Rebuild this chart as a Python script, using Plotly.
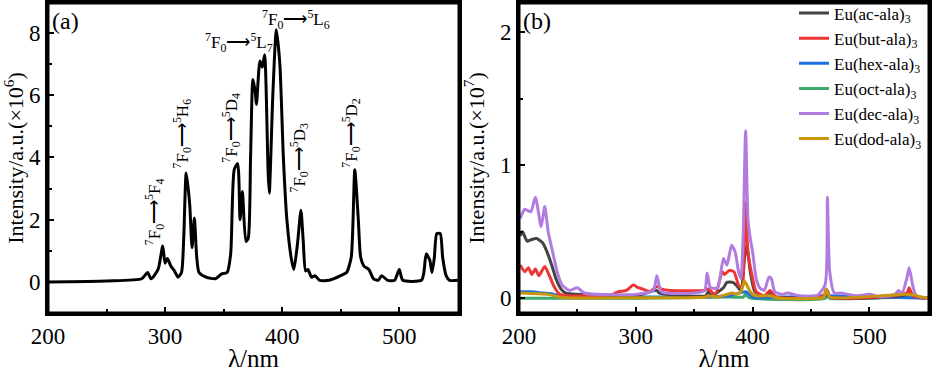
import plotly.graph_objects as go
from plotly.subplots import make_subplots

# ---------- Panel (a) data: excitation spectrum (x10^6) ----------
wl_a = [200, 250, 280, 285, 288, 294, 298, 300, 302, 305, 308, 311, 314, 316, 318, 321, 323, 325, 327, 329,
        335, 343, 348, 353, 356, 359, 362, 364, 366, 369, 371, 373, 375, 377, 378, 381, 383, 385, 388, 389,
        392, 395, 398, 401, 404, 408, 410, 413, 416, 418, 420, 422, 425, 428, 432, 440, 450, 455, 459, 462,
        465, 467, 470, 474, 478, 482, 485, 490, 496, 500, 503, 519, 521, 523, 526, 528, 530, 532, 535, 537,
        540, 543, 550]
int_a = [0.0, 0.03, 0.1, 0.3, 0.1, 0.4, 1.15, 0.6, 0.75, 0.5, 0.35, 0.15, 0.3, 1.5, 3.5, 2.5, 1.1, 2.05, 0.8, 0.3,
         0.15, 0.1, 0.25, 0.3, 0.9, 3.6, 3.8, 2.0, 2.9, 1.3, 1.4, 4.0, 6.5, 6.1, 5.7, 7.1, 6.9, 7.3, 3.5, 2.85,
         6.0, 8.1, 7.0, 4.0, 2.0, 0.7, 0.4, 1.2, 2.3, 1.3, 0.35, 0.4, 0.15, 0.2, 0.05, 0.05, 0.2, 0.3, 0.8, 3.6,
         2.0, 0.8, 0.5, 0.4, 0.1, 0.05, 0.2, 0.05, 0.05, 0.4, 0.05, 0.05, 0.3, 0.9, 0.7, 0.3, 0.8, 1.55, 1.55, 0.8,
         0.2, 0.05, 0.05]

# ---------- Panel (b) data: six complexes (x10^7) ----------
names_b = ["Eu(ac-ala)<sub>3</sub>", "Eu(but-ala)<sub>3</sub>", "Eu(hex-ala)<sub>3</sub>",
           "Eu(oct-ala)<sub>3</sub>", "Eu(dec-ala)<sub>3</sub>", "Eu(dod-ala)<sub>3</sub>"]
colors_b = ["#444444", "#ee3535", "#1f6fe0", "#3aaa6a", "#b07ce0", "#c8960c"]

wl_ac = [201, 203, 207, 210, 215, 220, 224, 228, 232, 236, 240, 250, 300, 318, 320, 340, 360, 362, 365, 375, 378,
         383, 386, 390, 393, 395, 398, 402, 410, 415, 420, 462, 464, 466, 532, 534, 537, 550]
int_ac = [0.47, 0.5, 0.43, 0.44, 0.45, 0.42, 0.35, 0.25, 0.14, 0.07, 0.04, 0.03, 0.02, 0.06, 0.04, 0.02, 0.02, 0.05,
          0.02, 0.08, 0.12, 0.12, 0.1, 0.06, 0.3, 0.4, 0.2, 0.05, 0.02, 0.04, 0.01, 0.02, 0.06, 0.01, 0.03, 0.07,
          0.02, 0.0]

wl_but = [201, 205, 208, 211, 214, 217, 222, 226, 230, 235, 240, 260, 280, 285, 292, 298, 302, 306, 312, 318, 322,
          330, 358, 362, 368, 374, 376, 380, 384, 388, 391, 393, 394, 396, 400, 403, 410, 415, 420, 461, 463, 466,
          532, 534, 537, 550]
int_but = [0.25, 0.2, 0.23, 0.18, 0.22, 0.17, 0.24, 0.17, 0.09, 0.03, 0.02, 0.02, 0.03, 0.05, 0.06, 0.1, 0.08, 0.07,
           0.05, 0.09, 0.07, 0.06, 0.06, 0.07, 0.03, 0.2, 0.18, 0.21, 0.2, 0.1, 0.08, 0.5, 0.72, 0.35, 0.15, 0.05,
           0.02, 0.06, 0.01, 0.02, 0.07, 0.01, 0.04, 0.08, 0.02, 0.0]

wl_hex = [200, 210, 220, 230, 240, 300, 380, 394, 400, 464, 550]
int_hex = [0.05, 0.05, 0.04, 0.03, 0.01, 0.01, 0.02, 0.05, 0.01, 0.02, 0.0]

wl_oct = [200, 300, 380, 392, 394, 397, 462, 464, 466, 534, 550]
int_oct = [0.0, 0.0, 0.01, 0.01, 0.03, 0.005, 0.0, 0.02, 0.0, 0.01, 0.0]

wl_dec = [201, 205, 210, 214, 219, 222, 225, 228, 233, 237, 243, 250, 256, 300, 315, 318, 322, 350, 359, 361, 364,
          370, 375, 378, 382, 385, 388, 390, 392, 394, 396, 398, 400, 403, 406, 410, 414, 416, 419, 425, 430, 440,
          455, 462, 464, 466, 470, 475, 490, 500, 510, 522, 525, 528, 532, 534, 537, 540, 550]
int_dec = [0.6, 0.67, 0.65, 0.76, 0.54, 0.69, 0.5, 0.38, 0.19, 0.1, 0.06, 0.08, 0.04, 0.03, 0.06, 0.17, 0.05, 0.04,
           0.06, 0.19, 0.08, 0.08, 0.3, 0.25, 0.4, 0.35, 0.2, 0.15, 0.5, 1.26, 0.6, 0.45, 0.35, 0.15, 0.08, 0.06,
           0.16, 0.15, 0.05, 0.03, 0.04, 0.02, 0.02, 0.1, 0.76, 0.2, 0.04, 0.04, 0.02, 0.03, 0.01, 0.03, 0.06,
           0.04, 0.15, 0.23, 0.1, 0.02, 0.0]

wl_dod = [200, 215, 225, 232, 240, 300, 360, 362, 370, 378, 383, 386, 390, 393, 395, 398, 402, 415, 420, 461, 463,
          466, 534, 550]
int_dod = [0.04, 0.035, 0.03, 0.015, 0.005, 0.005, 0.01, 0.02, 0.01, 0.03, 0.04, 0.03, 0.05, 0.13, 0.1, 0.05, 0.02,
           0.02, 0.005, 0.01, 0.07, 0.01, 0.03, 0.0]

series_b = [(wl_ac, int_ac), (wl_but, int_but), (wl_hex, int_hex), (wl_oct, int_oct), (wl_dec, int_dec),
            (wl_dod, int_dod)]
plot_order = [3, 2, 0, 1, 4, 5]  # draw order (dod on top)

ARROW = "⟶"
# annotation labels for panel (a): (text, x, y, angle)
labels_a = [
    ("<sup>7</sup>F<sub>0</sub>" + ARROW + "<sup>5</sup>F<sub>4</sub>", 290.6, 2.24, -90),
    ("<sup>7</sup>F<sub>0</sub>" + ARROW + "<sup>5</sup>H<sub>6</sub>", 314.5, 4.77, -90),
    ("<sup>7</sup>F<sub>0</sub>" + ARROW + "<sup>5</sup>D<sub>4</sub>", 356.4, 4.96, -90),
    ("<sup>7</sup>F<sub>0</sub>" + ARROW + "<sup>5</sup>L<sub>7</sub>", 363.2, 7.68, 0),
    ("<sup>7</sup>F<sub>0</sub>" + ARROW + "<sup>5</sup>L<sub>6</sub>", 412.0, 8.42, 0),
    ("<sup>7</sup>F<sub>0</sub>" + ARROW + "<sup>5</sup>D<sub>3</sub>", 414.5, 4.0, -90),
    ("<sup>7</sup>F<sub>0</sub>" + ARROW + "<sup>5</sup>D<sub>2</sub>", 459.0, 4.8, -90),
]

FONT = "Liberation Serif"

fig = make_subplots(rows=1, cols=2)

fig.add_trace(go.Scatter(x=wl_a, y=int_a, mode="lines", line=dict(color="black", width=3, shape="spline",
                                                                     smoothing=0.6),
                         showlegend=False), row=1, col=1)

for i in plot_order:
    xs, ys = series_b[i]
    fig.add_trace(go.Scatter(x=xs, y=ys, mode="lines", name=names_b[i], legendrank=i + 1,
                             line=dict(color=colors_b[i], width=3, shape="spline", smoothing=0.6)),
                  row=1, col=2)

ydom = [1 - 313 / 372, 1 - 3 / 372]
axis_common = dict(showline=True, linecolor="black", linewidth=3, mirror=True, ticks="inside", ticklen=6,
                   tickwidth=2, tickcolor="black", showgrid=False, zeroline=False, automargin=False,
                   tickfont=dict(family=FONT, size=23, color="black"),
                   minor=dict(ticks="inside", ticklen=4, tickwidth=2, tickcolor="black"))

fig.update_xaxes(**axis_common)
fig.update_yaxes(**axis_common)

fig.update_layout(
    template="none",
    width=933, height=372, margin=dict(l=0, r=0, t=0, b=0, autoexpand=False),
    paper_bgcolor="white", plot_bgcolor="white",
    font=dict(family=FONT, color="black"),
    xaxis=dict(domain=[48 / 933, 459 / 933], range=[200, 551], tickvals=[200, 300, 400, 500],
               minor=dict(tickvals=[250, 350, 450]),
               title=dict(text="λ/nm", font=dict(family=FONT, size=25), standoff=8)),
    yaxis=dict(domain=ydom, range=[-1, 8.96], tickvals=[0, 2, 4, 6, 8], minor=dict(tickvals=[1, 3, 5, 7]),
               title=dict(text="Intensity/a.u.(×10<sup>6</sup>)", font=dict(family=FONT, size=22), standoff=10)),
    xaxis2=dict(domain=[519 / 933, 929 / 933], range=[200, 551], tickvals=[200, 300, 400, 500],
                minor=dict(tickvals=[250, 350, 450]),
                title=dict(text="λ/nm", font=dict(family=FONT, size=25), standoff=8)),
    yaxis2=dict(domain=ydom, range=[-0.11, 2.22], tickvals=[0, 1, 2], minor=dict(tickvals=[0.5, 1.5]),
                title=dict(text="Intensity/a.u.(×10<sup>7</sup>)", font=dict(family=FONT, size=22), standoff=10)),
    legend=dict(x=794 / 933, y=1.012, xanchor="left", yanchor="top", bgcolor="rgba(0,0,0,0)",
                font=dict(family=FONT, size=17, color="black"), tracegroupgap=0),
)

# explicit frames around both panels
for xr, yr in (("x domain", "y domain"), ("x2 domain", "y2 domain")):
    fig.add_shape(type="rect", xref=xr, yref=yr, x0=0, x1=1, y0=0, y1=1,
                  line=dict(color="black", width=3), layer="above")

for text, x, y, ang in labels_a:
    fig.add_annotation(x=x, y=y, xref="x", yref="y", text=text, showarrow=False, textangle=ang,
                       font=dict(family=FONT, size=17, color="black"), xanchor="center", yanchor="middle")

fig.add_annotation(x=0.005, y=0.99, xref="x domain", yref="y domain", text="(a)", showarrow=False,
                   xanchor="left", yanchor="top", font=dict(family=FONT, size=24, color="black"))
fig.add_annotation(x=0.005, y=0.99, xref="x2 domain", yref="y2 domain", text="(b)", showarrow=False,
                   xanchor="left", yanchor="top", font=dict(family=FONT, size=24, color="black"))

fig.write_html("out.html", config={"displayModeBar": False},
               post_script="document.body.style.margin='0';")
